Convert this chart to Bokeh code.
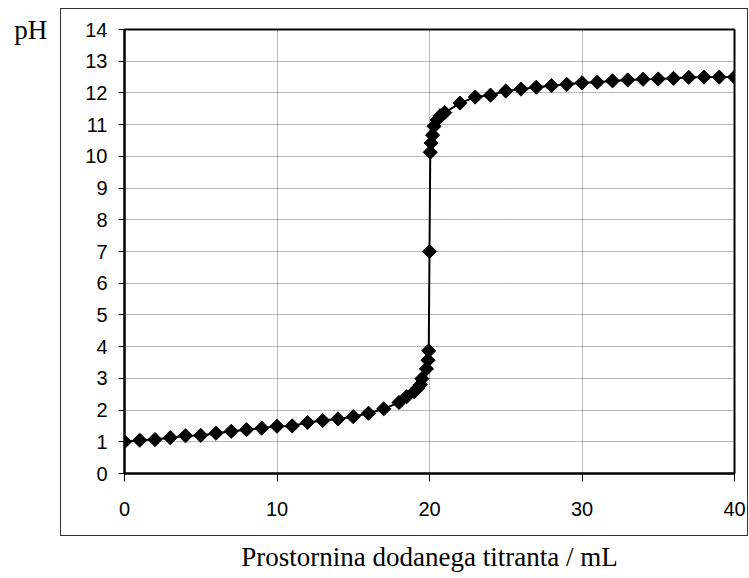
import math
from bokeh.plotting import figure
from bokeh.models import Range1d, FixedTicker, ColumnDataSource, InlineStyleSheet
from bokeh.embed import file_html
from bokeh.resources import INLINE

# Titration data
volume_ml = [0, 1, 2, 3, 4, 5, 6, 7, 8, 9, 10, 11, 12, 13, 14, 15, 16, 17, 18,
             18.5, 19, 19.2, 19.4, 19.5, 19.8, 19.9, 19.95, 20,
             20.05, 20.1, 20.2, 20.3, 20.5, 20.7, 21,
             22, 23, 24, 25, 26, 27, 28, 29, 30, 31, 32, 33, 34, 35, 36, 37, 38, 39, 40]
ph_values = [1.00, 1.05, 1.07, 1.13, 1.19, 1.20, 1.27, 1.33, 1.38, 1.43, 1.49, 1.50, 1.61, 1.67, 1.72, 1.79, 1.90, 2.04, 2.24,
             2.42, 2.58, 2.68, 2.80, 2.99, 3.30, 3.57, 3.87, 7.00,
             10.13, 10.42, 10.67, 10.95, 11.15, 11.28, 11.38,
             11.68, 11.87, 11.93, 12.06, 12.12, 12.18, 12.23, 12.27, 12.32, 12.34, 12.38, 12.41, 12.43, 12.44, 12.46, 12.49, 12.50, 12.50, 12.50]

x_ticks = [0, 10, 20, 30, 40]
y_ticks = list(range(0, 15))
x_title = "Prostornina dodanega titranta / mL"
y_title = "pH"

src = ColumnDataSource(data=dict(v=volume_ml, ph=ph_values))

# outer chart-area frame drawn with CSS (not a data mark)
frame_css = InlineStyleSheet(css="""
:host::after {
  content: '';
  position: absolute;
  left: 60px; top: 8px;
  width: 686px; height: 526px;
  border: 1px solid #333333;
  pointer-events: none;
}
""")

p = figure(width=748, height=576, output_backend="svg", toolbar_location=None,
           x_range=Range1d(0, 40), y_range=Range1d(0, 14),
           min_border_left=124, min_border_right=14, min_border_top=29, min_border_bottom=103)
p.stylesheets = [frame_css]
p.background_fill_color = "white"
p.border_fill_color = "white"
p.outline_line_color = "black"
p.outline_line_width = 2

for ax, ticks in ((p.xaxis[0], x_ticks), (p.yaxis[0], y_ticks)):
    ax.ticker = FixedTicker(ticks=ticks)
    ax.axis_line_color = "black"
    ax.axis_line_width = 2
    ax.major_tick_line_color = "black"
    ax.major_tick_line_width = 1
    ax.major_tick_in = 0
    ax.minor_tick_line_color = None
    ax.major_label_text_font = "Liberation Sans"
    ax.major_label_text_font_size = "20px"
    ax.major_label_text_color = "black"
    ax.axis_label_text_font = "Liberation Serif"
    ax.axis_label_text_font_size = "27px"
    ax.axis_label_text_font_style = "normal"
    ax.axis_label_text_color = "black"
p.xaxis.major_tick_out = 8
p.xaxis.major_label_standoff = 20
p.yaxis.major_tick_out = 6
p.yaxis.major_label_standoff = 11

p.xaxis.axis_label = x_title
p.xaxis.axis_label_standoff = 23
p.yaxis.axis_label = y_title
p.yaxis.axis_label_orientation = "horizontal"
p.yaxis.axis_label_align = "end"
p.yaxis.axis_label_standoff = 35

p.xgrid.ticker = FixedTicker(ticks=x_ticks)
p.ygrid.ticker = FixedTicker(ticks=y_ticks)
for g in (p.xgrid[0], p.ygrid[0]):
    g.grid_line_color = "#707070"
    g.grid_line_width = 1
    g.grid_line_dash = "1 1"

p.line("v", "ph", source=src, line_color="black", line_width=2)
p.scatter("v", "ph", source=src, marker="square", size=10, angle=math.pi / 4,
          fill_color="black", line_color="black")

open("out.html", "w").write(file_html(p, INLINE))
